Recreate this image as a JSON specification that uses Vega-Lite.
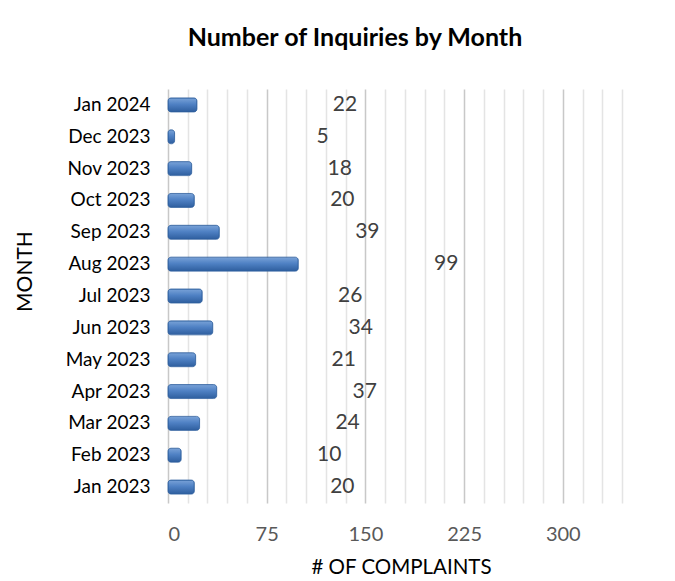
{
  "$schema": "https://vega.github.io/schema/vega-lite/v6.json",
  "width": 454,
  "height": 414,
  "autosize": {"type": "none"},
  "padding": {"left": 168, "top": 89, "right": 53, "bottom": 78},
  "background": "white",
  "title": {
    "text": "Number of Inquiries by Month",
    "font": "Lato",
    "fontSize": 25,
    "fontWeight": "bold",
    "color": "#000000",
    "anchor": "middle",
    "dx": -40,
    "offset": 38
  },
  "data": {
    "values": [
      {"month": "Jan 2024", "count": 22},
      {"month": "Dec 2023", "count": 5},
      {"month": "Nov 2023", "count": 18},
      {"month": "Oct 2023", "count": 20},
      {"month": "Sep 2023", "count": 39},
      {"month": "Aug 2023", "count": 99},
      {"month": "Jul 2023", "count": 26},
      {"month": "Jun 2023", "count": 34},
      {"month": "May 2023", "count": 21},
      {"month": "Apr 2023", "count": 37},
      {"month": "Mar 2023", "count": 24},
      {"month": "Feb 2023", "count": 10},
      {"month": "Jan 2023", "count": 20}
    ]
  },
  "encoding": {
    "y": {
      "field": "month",
      "type": "nominal",
      "sort": null,
      "scale": {"paddingInner": 0.2, "paddingOuter": 0.1},
      "axis": {
        "title": "MONTH",
        "titleFont": "Lato",
        "titleFontSize": 21,
        "titleFontWeight": "normal",
        "titleColor": "#000000",
        "titleX": -133,
        "titleY": 182,
        "labelFont": "Lato",
        "labelFontSize": 19,
        "labelColor": "#000000",
        "labelPadding": 18,
        "ticks": false,
        "domain": false,
        "grid": false
      }
    },
    "x": {
      "field": "count",
      "type": "quantitative",
      "scale": {"domain": [0, 345], "nice": false},
      "axis": {
        "title": "# OF COMPLAINTS",
        "titleFont": "Lato",
        "titleFontSize": 20.5,
        "titleFontWeight": "normal",
        "titleColor": "#000000",
        "titleX": 233,
        "titleY": 64,
        "titleAlign": "center",
        "titleBaseline": "middle",
        "values": [0, 15, 30, 45, 60, 75, 90, 105, 120, 135, 150, 165, 180, 195, 210, 225, 240, 255, 270, 285, 300, 315, 330, 345],
        "labelExpr": "datum.value % 75 === 0 ? datum.label : ''",
        "labelFont": "Lato",
        "labelFontSize": 20,
        "labelColor": "#595959",
        "labelPadding": 21,
        "ticks": false,
        "domain": false,
        "grid": true,
        "gridColor": {"condition": {"test": "datum.value % 75 === 0", "value": "#c8c8c8"}, "value": "#e4e4e4"},
        "gridWidth": 1.5
      }
    }
  },
  "layer": [
    {
      "mark": {
        "type": "bar",
        "height": 14,
        "cornerRadius": 3,
        "stroke": "#2f5f9e",
        "strokeWidth": 0.8,
        "color": {
          "gradient": "linear",
          "x1": 0, "y1": 0, "x2": 0, "y2": 1,
          "stops": [
            {"offset": 0, "color": "#7aa3d8"},
            {"offset": 0.45, "color": "#4f81c4"},
            {"offset": 1, "color": "#2e5e9e"}
          ]
        }
      }
    },
    {
      "mark": {
        "type": "text",
        "align": "center",
        "baseline": "middle",
        "dx": 148,
        "font": "Lato",
        "fontSize": 21,
        "color": "#404040"
      },
      "encoding": {
        "text": {"field": "count", "type": "quantitative"}
      }
    }
  ],
  "config": {
    "view": {"stroke": null}
  }
}
